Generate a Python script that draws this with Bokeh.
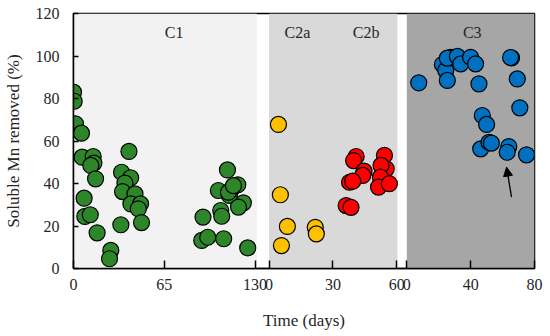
from bokeh.plotting import figure
from bokeh.models import Range1d, FixedTicker, Arrow, NormalHead, ColumnDataSource
from bokeh.core.properties import value
from bokeh.embed import file_html
from bokeh.resources import INLINE

# ---------------- data ----------------
c1_days = [0, 0.5, 1.4, 5.7, 6.2, 14.1, 14.6, 12.4, 15.8, 7.6, 8.1, 12.0, 16.9, 26.7, 25.8,
           39.7, 34.4, 40.9, 36.8, 35.1, 44.0, 41.1, 48.0, 46.4, 33.9, 48.7,
           110.2, 117.6, 103.7, 113.3, 111.6, 110.9, 114.5, 121.6, 118.1, 105.4, 106.1,
           92.7, 91.8, 96.1, 107.5, 124.7]
c1_vals = [83.0, 78.7, 68.1, 63.7, 52.4, 52.7, 49.6, 48.5, 42.2, 33.1, 24.5, 25.3, 16.8, 8.5, 4.6,
           55.1, 45.3, 42.7, 40.2, 36.2, 35.1, 30.4, 30.4, 28.1, 20.6, 21.6,
           46.4, 39.4, 36.7, 37.5, 34.4, 35.9, 39.0, 30.9, 28.9, 27.3, 24.6,
           24.2, 13.2, 14.7, 14.0, 9.7]

c2a_days = [4.4, 5.3, 8.6, 5.8, 21.7, 22.2]
c2a_vals = [67.8, 34.7, 19.8, 10.8, 19.4, 16.3]

c2b_days = [40.9, 39.7, 44.6, 44.0, 37.8, 39.3, 54.2, 55.0, 52.6, 52.3, 51.4, 56.5, 36.2, 38.5]
c2b_vals = [52.7, 50.8, 45.8, 43.8, 40.6, 41.1, 53.2, 46.9, 48.5, 43.0, 38.3, 39.9, 29.6, 28.8]

c3_days = [7.5, 22.3, 24.4, 27.5, 25.4, 31.7, 33.8, 40.0, 43.1, 25.4, 45.2, 65.6, 65.0, 69.2,
           70.8, 47.3, 50.0, 46.3, 51.5, 53.0, 63.9, 62.9, 75.0]
c3_vals = [87.4, 96.0, 93.2, 99.4, 99.0, 99.8, 96.3, 99.4, 96.3, 88.5, 86.9, 99.1, 99.3, 89.2,
           75.6, 72.0, 67.8, 56.3, 59.4, 59.0, 57.4, 54.7, 53.5]

phase_names = ["C1", "C2", "C3"]
phase_ticks = [[0, 65, 130], [0, 30, 60], [0, 40, 80]]
phase_shade_end = [131.2, 60.3, 80]
phase_colors = ["#f2f2f2", "#d9d9d9", "#a6a6a6"]
region_labels = ["C1", "C2a", "C2b", "C3"]
region_label_phase = [0, 1, 1, 2]
region_label_day = [72, 13.3, 45.6, 41]
y_ticks = [0, 20, 40, 60, 80, 100, 120]

# composite x axis: each phase has its own offset and scale
seg_offset = [0, 196, 334]
seg_scale = [1.4, 64 / 30, 1.6]


def gx(phase, d):
    return seg_offset[phase] + d * seg_scale[phase]


FONT = "Liberation Serif"
TXT = "#262626"

p = figure(width=546, height=334, output_backend="svg", toolbar_location=None,
           x_range=Range1d(0, 462), y_range=Range1d(0, 120),
           min_border_left=72, min_border_right=12, min_border_top=13, min_border_bottom=66)
p.xgrid.visible = False
p.ygrid.visible = False
p.outline_line_color = "black"
p.outline_line_width = 1.5
p.background_fill_color = "white"

# shaded phases
for i in range(3):
    p.quad(left=[gx(i, 0)], right=[gx(i, phase_shade_end[i])], bottom=[0], top=[120],
           fill_color=phase_colors[i], line_color=None)

# scatter series
def scat(phase, days, vals, color):
    src = ColumnDataSource(dict(x=[gx(phase, d) for d in days], y=vals))
    p.scatter("x", "y", source=src, size=16, fill_color=color, line_color="black", line_width=1.2)

scat(0, c1_days, c1_vals, "#2e862a")
scat(1, c2a_days, c2a_vals, "#ffc000")
scat(1, c2b_days, c2b_vals, "#ff0000")
scat(2, c3_days, c3_vals, "#0070c0")

# region labels
p.text(x=[gx(region_label_phase[i], region_label_day[i]) for i in range(4)], y=[111] * 4,
       text=region_labels, text_font=value(FONT), text_font_size="16px", text_color=TXT,
       text_align="center", text_baseline="middle")

# arrow
p.add_layout(Arrow(x_start=gx(2, 65.6), y_start=33.6, x_end=gx(2, 62.5), y_end=47.7,
                   line_color="black", line_width=1.3,
                   end=NormalHead(size=9, fill_color="black", line_color="black")))

# x axis with per-phase labels
tick_pos = []
tick_lab = {}
for i in range(3):
    for t in phase_ticks[i]:
        pos = int(round(gx(i, t)))
        tick_pos.append(pos)
        tick_lab[pos] = str(t)

xa = p.xaxis[0]
xa.ticker = FixedTicker(ticks=tick_pos)
xa.major_label_overrides = tick_lab
xa.axis_label = "Time (days)"
ya = p.yaxis[0]
ya.ticker = FixedTicker(ticks=y_ticks)
ya.axis_label = "Soluble Mn removed (%)"

for ax in (xa, ya):
    ax.axis_line_color = "black"
    ax.axis_line_width = 1.5
    ax.major_tick_line_color = "black"
    ax.major_tick_line_width = 1.5
    ax.major_tick_in = 8
    ax.major_tick_out = 0
    ax.minor_tick_line_color = None
    ax.major_label_text_font = FONT
    ax.major_label_text_font_size = "16px"
    ax.major_label_text_color = TXT
    ax.axis_label_text_font = FONT
    ax.axis_label_text_font_size = "17px"
    ax.axis_label_text_font_style = "normal"
    ax.axis_label_text_color = TXT

ya.major_tick_in = 5
ya.major_label_standoff = 14
ya.axis_label_standoff = 10
xa.major_label_standoff = 10
xa.axis_label_standoff = 18

open("out.html", "w").write(file_html(p, INLINE))
